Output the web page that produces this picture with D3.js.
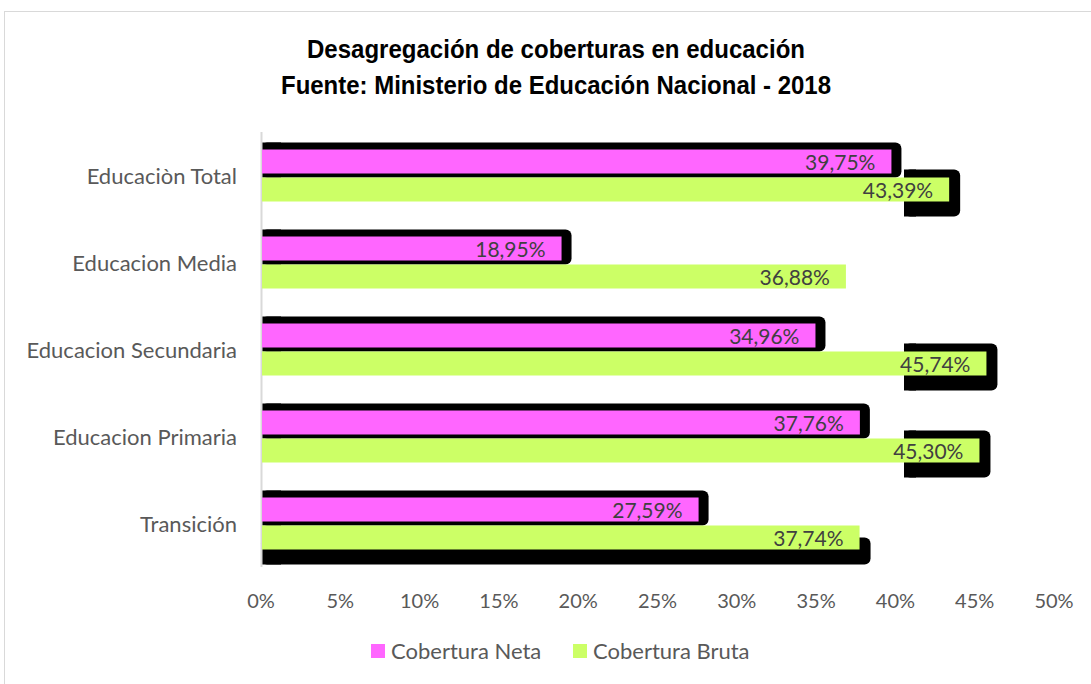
<!DOCTYPE html>
<html>
<head>
<meta charset="utf-8">
<script src="https://cdn.jsdelivr.net/npm/d3@7"></script>
<style>
  body { margin: 0; background: #fff; }
  svg { display: block; }
</style>
</head>
<body>
<svg width="1091" height="684"></svg>
<script>
const categories = ["Educaciòn Total", "Educacion Media", "Educacion Secundaria", "Educacion Primaria", "Transición"];
const neta = [39.75, 18.95, 34.96, 37.76, 27.59];
const bruta = [43.39, 36.88, 45.74, 45.30, 37.74];
const ticks = [0, 5, 10, 15, 20, 25, 30, 35, 40, 45, 50];
const seriesNames = ["Cobertura Neta", "Cobertura Bruta"];
// how the black shadow behind each green bar shows up
const brutaShadow = ["cut", "none", "cut", "cut", "low"];

const svg = d3.select("svg");
const pink = "#ff66ff", green = "#ccff66";
const labelFont = "Lato, 'Open Sans', sans-serif";

// chart frame
svg.append("rect")
    .attr("x", 4.5).attr("y", 11.5)
    .attr("width", 1100).attr("height", 700)
    .attr("fill", "none").attr("stroke", "#d9d9d9");

const x = d3.scaleLinear().domain([0, 50]).range([261, 1054]);
const y = d3.scaleBand().domain(categories).range([132, 567]);

// title
const title = svg.append("text")
    .attr("text-anchor", "middle")
    .attr("font-family", "'Liberation Sans', Arial, sans-serif")
    .attr("font-weight", "bold")
    .attr("font-size", 26)
    .attr("fill", "#000");
title.append("tspan").attr("x", 556).attr("y", 58)
    .attr("textLength", 498).attr("lengthAdjust", "spacingAndGlyphs")
    .text("Desagregación de coberturas en educación");
title.append("tspan").attr("x", 556).attr("y", 94)
    .attr("textLength", 550).attr("lengthAdjust", "spacingAndGlyphs")
    .text("Fuente: Ministerio de Educación Nacional - 2018");

// shadows
const barH = 24;
categories.forEach((c, i) => {
    const mid = y(c) + y.bandwidth() / 2;
    // neta shadow
    svg.append("rect")
        .attr("x", x(0))
        .attr("y", mid - 2 - barH - 7)
        .attr("width", x(neta[i]) - x(0) + 10)
        .attr("height", barH + 11)
        .attr("rx", 6)
        .attr("fill", "#000");
    svg.append("rect")
        .attr("x", x(0))
        .attr("y", mid - 2 - barH - 7)
        .attr("width", 20)
        .attr("height", barH + 11)
        .attr("fill", "#000");
    const kind = brutaShadow[i];
    if (kind === "cut") {
        const x0 = 904;
        svg.append("rect")
            .attr("x", x0)
            .attr("y", mid + 2 - 8)
            .attr("width", x(bruta[i]) + 11 - x0)
            .attr("height", barH + 23)
            .attr("rx", 6)
            .attr("fill", "#000");
        svg.append("rect")
            .attr("x", x0)
            .attr("y", mid + 2 - 8)
            .attr("width", 12)
            .attr("height", barH + 23)
            .attr("fill", "#000");
    } else if (kind === "low") {
        svg.append("rect")
            .attr("x", x(0))
            .attr("y", mid + 2 + 12)
            .attr("width", x(bruta[i]) - x(0) + 11)
            .attr("height", barH + 3)
            .attr("rx", 6)
            .attr("fill", "#000");
        svg.append("rect")
            .attr("x", x(0))
            .attr("y", mid + 2 + 12)
            .attr("width", 20)
            .attr("height", barH + 3)
            .attr("fill", "#000");
    }
});

// axis line
svg.append("line")
    .attr("x1", x(0) + 0.5).attr("x2", x(0) + 0.5)
    .attr("y1", 132).attr("y2", 567)
    .attr("stroke", "#d9d9d9").attr("stroke-width", 2);

// bars
const fmt = v => v.toFixed(2).replace(".", ",") + "%";
categories.forEach((c, i) => {
    const mid = y(c) + y.bandwidth() / 2;
    svg.append("rect")
        .attr("x", x(0) + 1).attr("y", mid - 2 - barH)
        .attr("width", x(neta[i]) - x(0) - 1).attr("height", barH)
        .attr("fill", pink);
    svg.append("rect")
        .attr("x", x(0) + 1).attr("y", mid + 2)
        .attr("width", x(bruta[i]) - x(0) - 1).attr("height", barH)
        .attr("fill", green);

    svg.append("text")
        .attr("x", x(neta[i]) - 16).attr("y", mid - 2 - barH / 2 + 8)
        .attr("text-anchor", "end")
        .attr("font-family", labelFont).attr("font-size", 21)
        .attr("fill", "#404040")
        .text(fmt(neta[i]));
    svg.append("text")
        .attr("x", x(bruta[i]) - 16).attr("y", mid + 2 + barH / 2 + 8)
        .attr("text-anchor", "end")
        .attr("font-family", labelFont).attr("font-size", 21)
        .attr("fill", "#404040")
        .text(fmt(bruta[i]));

    svg.append("text")
        .attr("x", 237).attr("y", mid + 8)
        .attr("text-anchor", "end")
        .attr("font-family", labelFont).attr("font-size", 22)
        .attr("fill", "#595959")
        .text(c);
});

// x tick labels
svg.selectAll(".tick-label")
    .data(ticks)
    .join("text")
    .attr("class", "tick-label")
    .attr("x", d => x(d))
    .attr("y", 608)
    .attr("text-anchor", "middle")
    .attr("font-family", labelFont).attr("font-size", 20)
    .attr("fill", "#595959")
    .text(d => d + "%");

// legend
const legendX = [371, 573];
seriesNames.forEach((name, i) => {
    svg.append("rect")
        .attr("x", legendX[i]).attr("y", 644)
        .attr("width", 14).attr("height", 14)
        .attr("fill", i === 0 ? pink : green);
    svg.append("text")
        .attr("x", legendX[i] + 20).attr("y", 659)
        .attr("font-family", labelFont).attr("font-size", 22)
        .attr("fill", "#595959")
        .text(name);
});
</script>
</body>
</html>
